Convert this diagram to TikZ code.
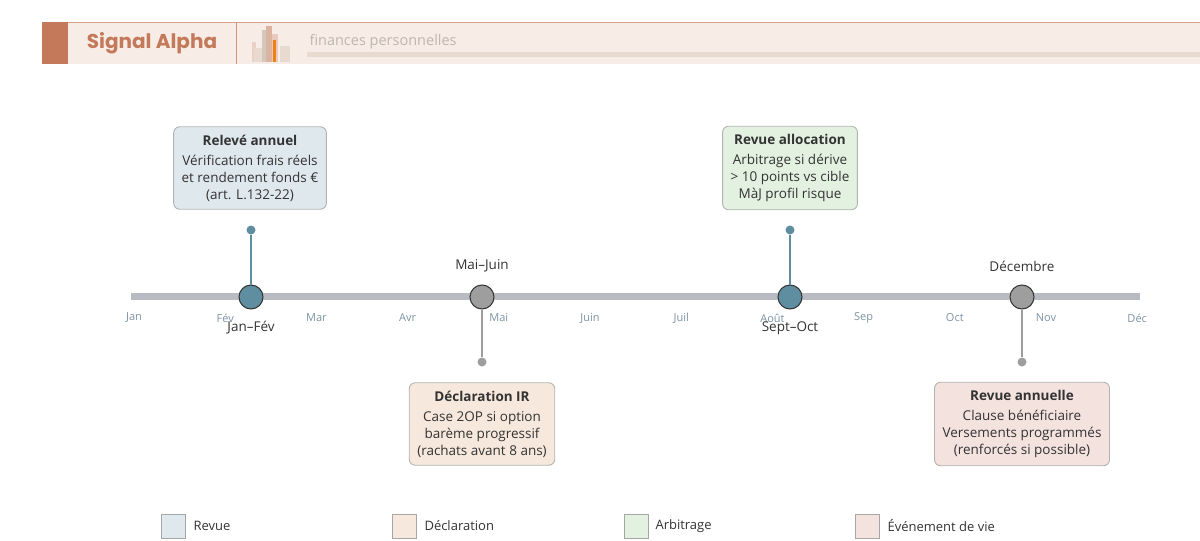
\documentclass[tikz,border=0pt]{standalone}
\usepackage{fontspec}
\setmainfont{Open Sans}
\newfontfamily\titlefont{Poppins}
\definecolor{terra}{HTML}{C47A5A}
\definecolor{headbg}{HTML}{F7ECE6}
\definecolor{headbar}{HTML}{E8DACE}
\definecolor{teal}{HTML}{5E8EA0}
\definecolor{greyd}{HTML}{9E9E9E}
\definecolor{axis}{HTML}{B8BCC2}
\definecolor{month}{HTML}{7C93A3}
\definecolor{revfill}{HTML}{DFE8ED}
\definecolor{decfill}{HTML}{F6E8DC}
\definecolor{arbfill}{HTML}{E2F1E0}
\definecolor{vieFill}{HTML}{F3E2DE}
\definecolor{txt}{HTML}{333333}
\tikzset{
  evbox/.style={draw=#1, rounded corners=6pt, line width=0.9pt, align=center,
    text=txt, font=\fontsize{13.5}{17}\selectfont, inner sep=8pt},
  evbox/.default=gray,
  milestone/.style={circle, draw=txt, line width=1pt, minimum size=24pt, inner sep=0pt},
  pin/.style={circle, inner sep=0pt, minimum size=9pt},
  mlabel/.style={font=\fontsize{11}{13}\selectfont, text=month},
  period/.style={font=\fontsize{13.5}{15}\selectfont, text=txt},
  legsq/.style={draw=gray!70, line width=0.8pt, minimum size=24pt, inner sep=0pt},
  legtxt/.style={font=\fontsize{13}{15}\selectfont, text=txt, anchor=west}
}
\begin{document}
\begin{tikzpicture}[x=1pt,y=-1pt]
\useasboundingbox (0,0) rectangle (1200,541);
% header
\fill[headbg] (42,22) rectangle (1200,64);
\draw[terra!70, line width=1pt] (42,22) -- (1200,22);
\fill[terra] (42,22) rectangle (68,64);
\draw[terra!80, line width=0.8pt] (236,22) -- (236,64);
\node[font=\titlefont\fontsize{20}{22}\selectfont\bfseries, text=terra] (brand) at (152,43) {Signal Alpha};
\fill[terra!35] (252,42) rectangle (256,62);
\fill[headbar] (254,48) rectangle (262,62);
\fill[headbar!80!gray] (262,30) rectangle (268,62);
\fill[headbar!60!terra] (266,26) rectangle (272,62);
\fill[terra!40] (272,34) rectangle (278,62);
\fill[orange!70!brown] (273,40) rectangle (276,62);
\fill[headbar] (280,46) rectangle (290,62);
\node[font=\fontsize{14.5}{16}\selectfont, text=headbar!60!gray, anchor=west] (sub) at (306,42) {finances personnelles};
\fill[headbar] (307,52) rectangle (1200,57);
% axis
\draw[axis, line width=7pt] (131,296) -- (1140,296);
\foreach \m [count=\i from 0] in {Jan,Fév,Mar,Avr,Mai,Juin,Juil,Août,Sep,Oct,Nov,Déc}
  \node[mlabel] (m\i) at (134+91.2*\i,318) {\m};
% events
\node[pin, fill=teal] (p1) at (251,230) {};
\node[pin, fill=greyd] (p2) at (482,362) {};
\node[pin, fill=teal] (p3) at (790,230) {};
\node[pin, fill=greyd] (p4) at (1022,362) {};
\node[milestone, fill=teal] (e1) at (251,297) {};
\node[milestone, fill=greyd] (e2) at (482,297) {};
\node[milestone, fill=teal] (e3) at (790,297) {};
\node[milestone, fill=greyd] (e4) at (1022,297) {};
\draw[teal, line width=1.2pt] (e1) -- (p1);
\draw[greyd, line width=1.2pt] (e2) -- (p2);
\draw[teal, line width=1.2pt] (e3) -- (p3);
\draw[greyd, line width=1.2pt] (e4) -- (p4);
\node[period] (l1) at (251,328) {Jan–Fév};
\node[period] (l2) at (482,266) {Mai–Juin};
\node[period] (l3) at (790,328) {Sept–Oct};
\node[period] (l4) at (1022,266) {Décembre};
\node[evbox=gray!60, fill=revfill] (b1) at (250,168) {\textbf{Relevé annuel}\\[3pt]Vérification frais réels\\et rendement fonds €\\(art. L.132-22)};
\node[evbox=gray!60, fill=decfill] (b2) at (482,424) {\textbf{Déclaration IR}\\[3pt]Case 2OP si option\\barème progressif\\(rachats avant 8 ans)};
\node[evbox=gray!60, fill=arbfill] (b3) at (790,168) {\textbf{Revue allocation}\\[3pt]Arbitrage si dérive\\> 10 points vs cible\\MàJ profil risque};
\node[evbox=gray!60, fill=vieFill] (b4) at (1022,424) {\textbf{Revue annuelle}\\[3pt]Clause bénéficiaire\\Versements programmés\\(renforcés si possible)};
% legend
\node[legsq, fill=revfill] (q1) at (173,526) {};
\node[legtxt] (t1) at (190,526) {Revue};
\node[legsq, fill=decfill] (q2) at (404,526) {};
\node[legtxt] (t2) at (421,526) {Déclaration};
\node[legsq, fill=arbfill] (q3) at (636,526) {};
\node[legtxt] (t3) at (652,526) {Arbitrage};
\node[legsq, fill=vieFill] (q4) at (867,526) {};
\node[legtxt] (t4) at (884,526) {Événement de vie};
\end{tikzpicture}
\end{document}
